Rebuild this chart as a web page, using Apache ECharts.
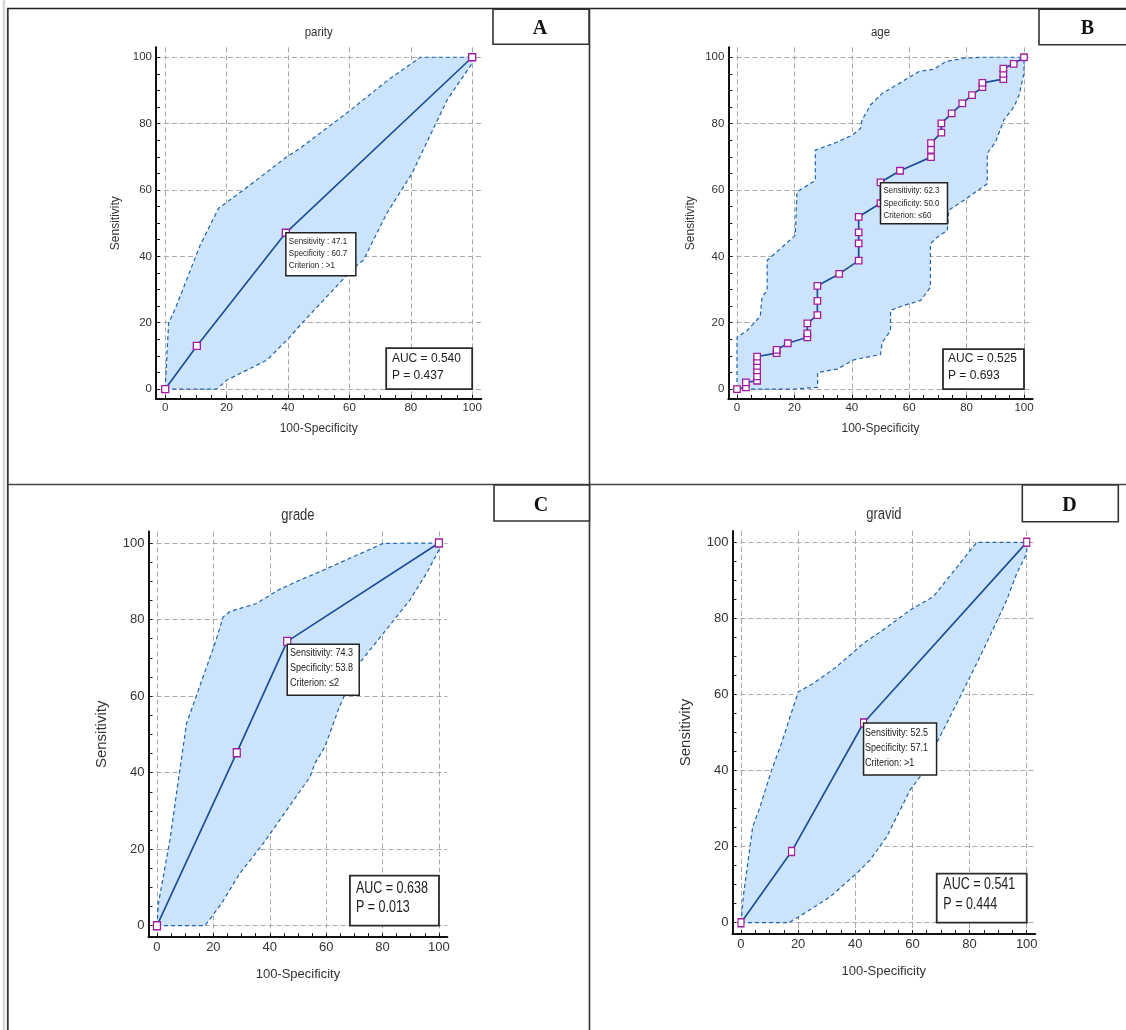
<!DOCTYPE html>
<html>
<head>
<meta charset="utf-8">
<script src="https://cdn.jsdelivr.net/npm/echarts@6/dist/echarts.min.js"></script>
<style>
  html, body { margin: 0; padding: 0; background: #fff; }
  #chart { width: 1126px; height: 1030px; }
</style>
</head>
<body>
<div id="chart"></div>
<script>
// panel titles / letters
const panelNames = ['parity', 'age', 'grade', 'gravid'];
const panelLetters = ['A', 'B', 'C', 'D'];

// axis ticks
const majorTicks = [0, 20, 40, 60, 80, 100];
const minorTicks = [0, 5, 10, 15, 20, 25, 30, 35, 40, 45, 50, 55, 60, 65, 70, 75, 80, 85, 90, 95, 100];

// ROC points [100-Specificity, Sensitivity] and confidence bounds
const rocParity = [[0, 0], [10.3, 13.0], [39.3, 47.1], [100, 100]];
const upParity = [[0, 0], [1.1, 19.8], [3.3, 24.3], [11.4, 43.4], [17.4, 54.5], [25.5, 60.0], [39.6, 70.0], [44.0, 72.6], [59.7, 83.6], [72.7, 93.2], [83.1, 100], [100, 100]];
const loParity = [[0, 0], [16.8, 0], [20.1, 2.7], [25.5, 5.2], [33.1, 8.7], [40.2, 15.3], [45.0, 20.3], [61.3, 36.4], [64.6, 38.9], [72.2, 53.0], [80.4, 65.0], [91.8, 87.1], [100, 98.2], [100, 100]];

const rocAge = [[0, 0], [3.1, 0.5], [3.1, 2.0], [7.0, 2.5], [7.0, 3.8], [7.0, 5.6], [7.0, 7.0], [7.0, 8.4], [7.0, 9.8], [13.8, 10.8], [13.8, 11.8], [17.7, 13.8], [24.5, 15.6], [24.5, 16.8], [24.5, 19.8], [28.0, 22.3], [28.0, 26.6], [28.0, 31.1], [35.6, 34.7], [42.4, 38.7], [42.4, 43.9], [42.4, 47.2], [42.4, 51.9], [50.0, 56.0], [50.0, 62.3], [56.8, 65.8], [67.6, 69.9], [67.6, 72.1], [67.6, 74.1], [71.2, 77.3], [71.2, 80.1], [74.8, 83.1], [78.5, 86.1], [81.9, 88.6], [85.5, 91.0], [85.5, 92.3], [92.8, 93.4], [92.8, 95.0], [92.8, 96.6], [96.4, 98.0], [100, 100]];
const upAge = [[0, 0], [0, 15.6], [3.5, 17.6], [8.1, 21.9], [8.7, 27.7], [10.5, 29.7], [10.5, 38.8], [15.1, 42.3], [20.3, 46.3], [20.9, 59.4], [27.3, 62.9], [27.3, 72.0], [33.7, 74.0], [40.1, 76.5], [43.0, 78.5], [43.6, 81.1], [46.5, 85.6], [50.6, 89.1], [54.7, 91.2], [60.5, 94.2], [63.4, 95.7], [68.6, 96.4], [72.7, 98.7], [79.1, 99.7], [84.9, 100], [100, 100]];
const loAge = [[0, 0], [20.1, 0], [28.1, 0.5], [28.1, 5.0], [34.9, 6.0], [40.7, 8.8], [45.3, 9.6], [50.0, 10.4], [50.6, 14.1], [53.5, 17.6], [53.5, 23.7], [58.1, 25.2], [64.0, 26.7], [67.4, 30.7], [67.4, 43.8], [69.8, 45.8], [73.3, 47.8], [73.8, 53.9], [79.1, 56.9], [87.2, 61.9], [87.2, 71.0], [90.1, 74.5], [93.0, 81.1], [96.5, 85.1], [98.3, 88.6], [100, 95.2], [100, 100]];

const rocGrade = [[0, 0], [28.3, 45.2], [46.2, 74.3], [100, 100]];
const upGrade = [[0, 0], [0.5, 5.8], [4.6, 22.4], [7.6, 38.1], [10.5, 52.9], [14.7, 61.6], [20.6, 73.8], [23.5, 80.7], [25.9, 82.1], [35.3, 84.2], [43.0, 87.7], [50.7, 90.3], [59.0, 92.9], [69.6, 96.4], [80.3, 99.9], [100, 100]];
const loGrade = [[0, 0], [17.0, 0], [22.9, 5.8], [29.4, 13.7], [37.7, 21.5], [46.0, 30.2], [54.3, 38.9], [56.0, 42.4], [59.6, 46.8], [64.3, 56.4], [70.8, 67.7], [80.3, 76.4], [89.7, 85.1], [95.6, 92.1], [100, 98.2], [100, 100]];

const rocGravid = [[0, 0], [17.7, 18.7], [42.9, 52.5], [100, 100]];
const upGravid = [[0, 0], [0.8, 6.8], [4.1, 25.2], [6.7, 30.5], [10.7, 40.1], [14.2, 47.2], [17.2, 54.2], [20.1, 60.7], [25.3, 62.9], [33.5, 67.3], [42.8, 73.4], [49.8, 77.0], [59.2, 82.2], [67.3, 85.7], [82.5, 100], [100, 100]];
const loGravid = [[0, 0], [16.6, 0], [21.2, 2.0], [31.2, 6.8], [40.5, 13.0], [45.2, 16.5], [51.0, 22.6], [59.2, 34.9], [62.7, 38.4], [68.5, 47.2], [76.7, 59.4], [84.8, 71.7], [93.0, 84.8], [96.5, 91.8], [100, 97.1], [100, 100]];

// criterion box values
const sensValues = ['47.1', '62.3', '74.3', '52.5'];
const specValues = ['60.7', '50.0', '53.8', '57.1'];
const criteria = ['>1', '\u226460', '\u22642', '>1'];
const aucValues = ['0.540', '0.525', '0.638', '0.541'];
const pValues = ['0.437', '0.693', '0.013', '0.444'];

const rocs = [rocParity, rocAge, rocGrade, rocGravid];
const uppers = [upParity, upAge, upGrade, upGravid];
const lowers = [loParity, loAge, loGrade, loGravid];

const fontReg = '"Liberation Sans", Arial, sans-serif';
const textColor = '#333';

const grids = [
  { left: 156, top: 47.3, width: 325.4, height: 351.7 },
  { left: 728.4, top: 47.3, width: 304.2, height: 351.7 },
  { left: 148.5, top: 531.5, width: 298.9, height: 405.7 },
  { left: 732.4, top: 530.9, width: 302.9, height: 403.2 }
];

// per-panel look (bottom row text is taller, so overlay text gets a vertical stretch)
const looks = [
  { tick: 11.5, xName: 12, yName: 12, xGap: 24, yGap: 34, tickMargin: 3, sym: [7, 7], title: 11.5, titleY: 33, sy: 1.1,
    note: { size: 8, w: 70, h: 43, dy: 0, y0: 9, lh: 12, px: 3, sep: ' : ' },
    auc: { size: 12, w: 86, h: 41, y0: -31, lh: 17, px: 5.7 } },
  { tick: 11.5, xName: 12, yName: 12, xGap: 24, yGap: 32, tickMargin: 3, sym: [6.5, 6.5], title: 11.5, titleY: 33, sy: 1.1,
    note: { size: 8, w: 67, h: 41, dy: 0.5, y0: 8.4, lh: 12.5, px: 3, sep: ': ' },
    auc: { size: 12, w: 81, h: 40, y0: -30.7, lh: 16.7, px: 5 } },
  { tick: 13, xName: 13, yName: 15, xGap: 31, yGap: 39, tickMargin: 4, sym: [7, 8], title: 13, titleY: 516, sy: 1.25,
    note: { size: 9, w: 72, h: 51, dy: 3, y0: 11.6, lh: 15, px: 2.7, sep: ': ' },
    auc: { size: 12.5, w: 89, h: 50, y0: -37.4, lh: 19, px: 6 } },
  { tick: 13, xName: 13, yName: 15, xGap: 31, yGap: 39, tickMargin: 4, sym: [6, 8], title: 13, titleY: 515, sy: 1.25,
    note: { size: 9, w: 73, h: 52, dy: 0, y0: 9.7, lh: 15, px: 1.4, sep: ': ' },
    auc: { size: 12.5, w: 90, h: 49, y0: -37.7, lh: 20, px: 6.6 } }
];

function makeAxes(dim, i) {
  const lk = looks[i];
  const isX = dim === 'x';
  const base = { type: 'value', gridIndex: i, min: -3, max: 103, position: isX ? 'bottom' : 'left' };
  const main = Object.assign({}, base, {
    name: isX ? '100-Specificity' : 'Sensitivity',
    nameLocation: 'middle',
    nameGap: isX ? lk.xGap : lk.yGap,
    nameTextStyle: { fontFamily: fontReg, fontSize: isX ? lk.xName : lk.yName, color: textColor },
    axisLine: { show: true, onZero: false, lineStyle: { color: '#111', width: 2 } },
    axisTick: { show: false, customValues: majorTicks },
    axisLabel: { customValues: majorTicks, margin: isX ? lk.tickMargin : 4, fontFamily: fontReg, fontSize: lk.tick, color: textColor },
    splitLine: { show: true, lineStyle: { color: '#a8a8a8', type: [5, 3], width: 1 } }
  });
  const minor = Object.assign({}, base, {
    axisLine: { show: false, onZero: false },
    axisTick: { show: true, inside: true, length: 4, customValues: minorTicks, lineStyle: { color: '#111', width: 1 } },
    axisLabel: { show: false },
    splitLine: { show: false }
  });
  return [main, minor];
}

const xAxes = [], yAxes = [], series = [];
for (let i = 0; i < 4; i++) {
  xAxes.push(...makeAxes('x', i));
  yAxes.push(...makeAxes('y', i));
  const poly = uppers[i].concat(lowers[i].slice().reverse());
  series.push({
    type: 'custom', xAxisIndex: i * 2, yAxisIndex: i * 2, silent: true, z: 1,
    data: poly,
    renderItem: function (params, api) {
      if (params.dataIndex !== 0) return;
      return {
        type: 'polygon',
        shape: { points: poly.map(p => api.coord(p)) },
        style: { fill: '#cce4fb' }
      };
    }
  });
  [uppers[i], lowers[i]].forEach(function (bound) {
    series.push({
      type: 'line', xAxisIndex: i * 2, yAxisIndex: i * 2, z: 2, silent: true,
      data: bound, symbol: 'none',
      lineStyle: { color: '#1f62ae', width: 1.2, type: [4, 3] }
    });
  });
  series.push({
    type: 'line', xAxisIndex: i * 2, yAxisIndex: i * 2, z: 3,
    data: rocs[i], showAllSymbol: true,
    symbol: 'rect', symbolSize: looks[i].sym,
    lineStyle: { color: '#1d4f98', width: 1.7 },
    itemStyle: { color: '#fff', borderColor: '#a3199f', borderWidth: 1.3 }
  });
}

const chart = echarts.init(document.getElementById('chart'));
chart.setOption({
  backgroundColor: '#fff',
  animation: false,
  grid: grids,
  xAxis: xAxes,
  yAxis: yAxes,
  series: series
});

// overlays: frame lines, panel letters, titles, criterion and AUC boxes
const gfx = [];
function line(x1, y1, x2, y2, color, w) {
  gfx.push({ type: 'line', shape: { x1, y1, x2, y2 }, style: { stroke: color, lineWidth: w }, z: 20, silent: true });
}
function label(x, y, text, size, sy, color, align) {
  gfx.push({ type: 'text', x: x, y: y, scaleY: sy, z: 24, silent: true,
    style: { text: text, font: size + 'px ' + fontReg, fill: color, align: align, verticalAlign: 'middle' } });
}
line(4, 0, 4, 1030, '#d6d6d6', 2.5);
line(7.8, 8, 7.8, 1030, '#333', 1.8);
line(7, 8.5, 1126, 8.5, '#222', 1.6);
line(589.5, 8, 589.5, 1030, '#333', 1.6);
line(8, 484.5, 1126, 484.5, '#444', 1.3);

const letterBoxes = [
  [493, 9.3, 96, 35],
  [1039, 9.3, 92, 35.4],
  [494, 485, 95.5, 36],
  [1022.3, 485, 96, 36.7]
];
const letterCenters = [[540, 28.5], [1087.5, 28.5], [541, 505.5], [1069.5, 505.5]];
letterBoxes.forEach(function (b, i) {
  gfx.push({ type: 'rect', shape: { x: b[0], y: b[1], width: b[2], height: b[3] }, style: { fill: '#fff', stroke: '#333', lineWidth: 1.6 }, z: 21, silent: true });
  gfx.push({ type: 'text', x: letterCenters[i][0], y: letterCenters[i][1], z: 22, silent: true,
    style: { text: panelLetters[i], font: 'bold 20px "Liberation Serif", "DejaVu Serif", serif', fill: '#111', align: 'center', verticalAlign: 'middle' } });
});

for (let i = 0; i < 4; i++) {
  const lk = looks[i];
  const finder = { xAxisIndex: i * 2, yAxisIndex: i * 2 };
  // title
  const mid = chart.convertToPixel(finder, [50, 100]);
  label(mid[0], lk.titleY, panelNames[i], lk.title, lk.sy, textColor, 'center');

  // criterion box anchored at the chosen cut-off point
  const cp = chart.convertToPixel(finder, [100 - parseFloat(specValues[i]), parseFloat(sensValues[i])]);
  const n = lk.note;
  const bx = cp[0], by = cp[1] + n.dy;
  gfx.push({ type: 'rect', shape: { x: bx, y: by, width: n.w, height: n.h }, style: { fill: '#fff', stroke: '#222', lineWidth: 1.5 }, z: 23, silent: true });
  ['Sensitivity' + n.sep + sensValues[i], 'Specificity' + n.sep + specValues[i], 'Criterion' + n.sep + criteria[i]].forEach(function (t, k) {
    label(bx + n.px, cp[1] + n.y0 + k * n.lh, t, n.size, lk.sy, '#222', 'left');
  });

  // AUC box, bottom-right corner at (100, 0)
  const br = chart.convertToPixel(finder, [100, 0]);
  const a = lk.auc;
  gfx.push({ type: 'rect', shape: { x: br[0] - a.w, y: br[1] - a.h, width: a.w, height: a.h }, style: { fill: '#fff', stroke: '#2a2a2a', lineWidth: 1.8 }, z: 23, silent: true });
  ['AUC = ' + aucValues[i], 'P = ' + pValues[i]].forEach(function (t, k) {
    label(br[0] - a.w + a.px, br[1] + a.y0 + k * a.lh, t, a.size, lk.sy, '#222', 'left');
  });
}

chart.setOption({ graphic: gfx });
</script>
</body>
</html>
